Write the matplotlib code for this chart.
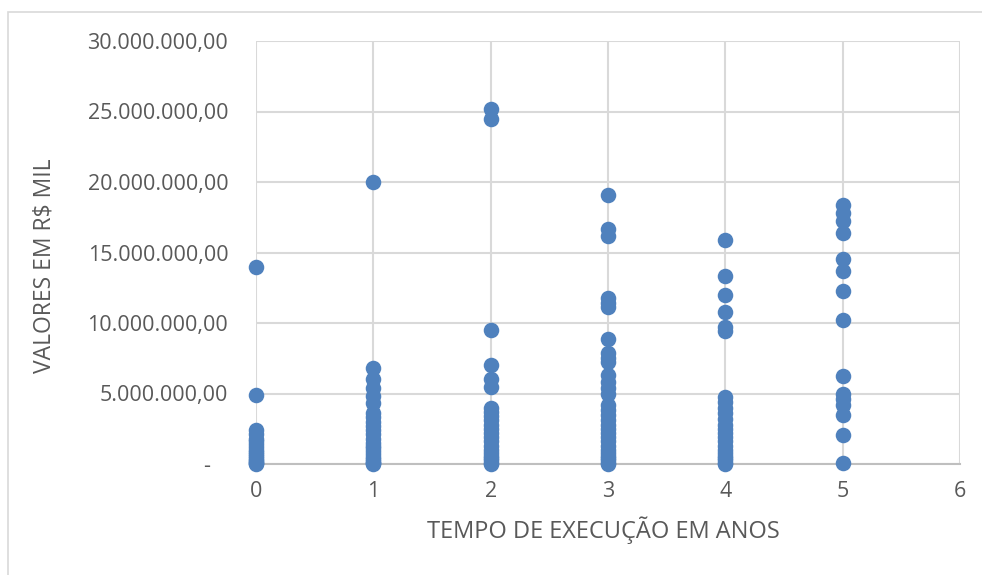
import matplotlib.pyplot as plt
from matplotlib.patches import Rectangle
from matplotlib.ticker import FuncFormatter

plt.rcParams['font.family'] = ['Open Sans', 'DejaVu Sans']

# values in millions of R$ mil, read per execution time (years)
anos_0 = [14.0, 4.9, 2.4, 2.1, 1.8, 1.6, 1.4, 1.2, 1.0, 0.85, 0.7, 0.55, 0.4, 0.3, 0.2, 0.1, 0.05, 0.02]
anos_1 = [20.0, 6.8, 6.0, 5.4, 4.8, 4.3, 3.6, 3.3, 3.0, 2.7, 2.4, 2.1, 1.8, 1.5, 1.3, 1.1, 0.9,
          0.7, 0.5, 0.35, 0.2, 0.1, 0.05, 0.0]
anos_2 = [25.2, 24.5, 9.5, 7.0, 6.0, 5.45, 4.0, 3.7, 3.4, 3.1, 2.8, 2.5, 2.2, 1.9, 1.6, 1.3, 1.0,
          0.8, 0.6, 0.4, 0.25, 0.1, 0.03]
anos_3 = [19.1, 16.7, 16.15, 11.75, 11.45, 11.1, 8.85, 7.85, 7.55, 7.25, 6.3, 5.85, 5.4, 5.0, 4.2,
          3.8, 3.5, 3.1, 2.8, 2.5, 2.2, 1.9, 1.6, 1.3, 1.0, 0.8, 0.6, 0.4, 0.25, 0.1, 0.03]
anos_4 = [15.9, 13.35, 12.0, 10.75, 9.75, 9.45, 4.75, 4.4, 4.0, 3.6, 3.2, 2.8, 2.5, 2.2, 1.9, 1.6,
          1.3, 1.0, 0.8, 0.6, 0.4, 0.25, 0.1, 0.03]
anos_5 = [18.35, 17.8, 17.2, 16.4, 14.55, 13.7, 12.3, 10.2, 6.25, 5.0, 4.6, 4.2, 3.5, 2.05, 0.05]

grupos = [anos_0, anos_1, anos_2, anos_3, anos_4, anos_5]
xs = []
ys = []
for ano, vals in enumerate(grupos):
    xs += [ano] * len(vals)
    ys += [v * 1e6 for v in vals]

fig = plt.figure(figsize=(9.82, 5.75), dpi=100)
ax = fig.add_axes([256 / 982, 1 - 464 / 575, 704 / 982, 423 / 575])

# outer chart border (left and top visible)
fig.patches.append(Rectangle((8 / 982, -0.1), 2, (575 - 12) / 575 + 0.1, transform=fig.transFigure,
                             fill=False, edgecolor='#d9d9d9', linewidth=1.2))

ax.scatter(xs, ys, s=125, color='#4f81bd', zorder=3, clip_on=False, linewidths=0)

ax.set_xlim(0, 6)
ax.set_ylim(0, 30e6)
ax.set_xticks(range(7))
ax.set_yticks([0, 5e6, 10e6, 15e6, 20e6, 25e6, 30e6])


def fmt(v, pos):
    if v == 0:
        return '-   '
    return f"{v:,.2f}".replace(',', 'X').replace('.', ',').replace('X', '.')


ax.yaxis.set_major_formatter(FuncFormatter(fmt))
ax.grid(True, color='#d9d9d9', linewidth=1.5, zorder=0)
ax.set_axisbelow(True)
for s in ['top', 'right', 'left']:
    ax.spines[s].set_visible(False)
ax.spines['bottom'].set_color('#bfbfbf')
ax.spines['bottom'].set_linewidth(1.5)
ax.tick_params(length=0, labelsize=15.5, colors='#595959')
ax.tick_params(axis='x', pad=12)
ax.tick_params(axis='y', pad=20)

ax.set_xlabel('TEMPO DE EXECUÇÃO EM ANOS', fontsize=17, color='#595959', va='top')
ax.set_ylabel('VALORES EM R$ MIL', fontsize=16.5, color='#595959')
ax.xaxis.set_label_coords(0.494, -0.125)
ax.yaxis.set_label_coords(-0.284, 0.468)

fig.savefig('out.png', dpi=100)
